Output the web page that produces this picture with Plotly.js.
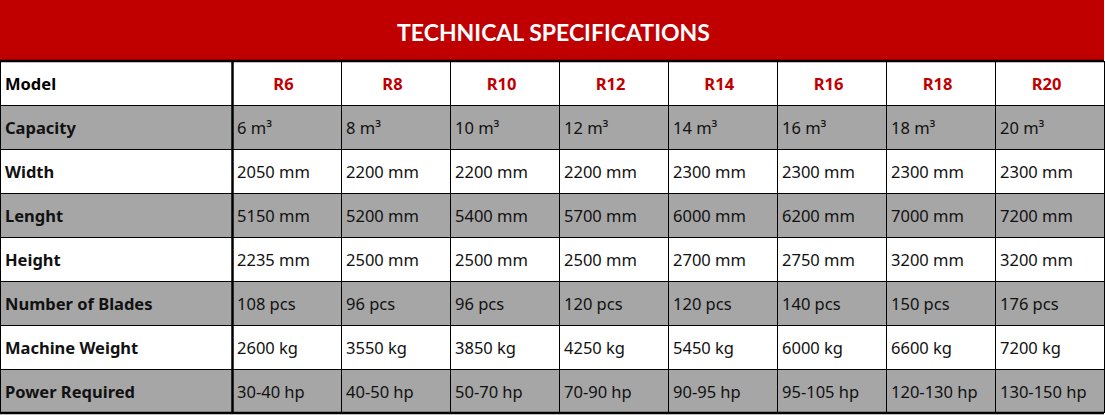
<!DOCTYPE html>
<html><head><meta charset="utf-8">
<script src="https://cdn.plot.ly/plotly-3.0.1.min.js"></script>
<style>
body{margin:0;background:#fff}
#c{width:1105px;height:415px}
</style>
</head><body><div id="c"></div>
<script>
const title = "TECHNICAL SPECIFICATIONS";
const models = ["R6","R8","R10","R12","R14","R16","R18","R20"];
const rowLabels = ["Capacity","Width","Lenght","Height","Number of Blades","Machine Weight","Power Required"];
const capacity = ["6 m³","8 m³","10 m³","12 m³","14 m³","16 m³","18 m³","20 m³"];
const width = ["2050 mm","2200 mm","2200 mm","2200 mm","2300 mm","2300 mm","2300 mm","2300 mm"];
const length = ["5150 mm","5200 mm","5400 mm","5700 mm","6000 mm","6200 mm","7000 mm","7200 mm"];
const height = ["2235 mm","2500 mm","2500 mm","2500 mm","2700 mm","2750 mm","3200 mm","3200 mm"];
const blades = ["108 pcs","96 pcs","96 pcs","120 pcs","120 pcs","140 pcs","150 pcs","176 pcs"];
const weight = ["2600 kg","3550 kg","3850 kg","4250 kg","5450 kg","6000 kg","6600 kg","7200 kg"];
const power = ["30-40 hp","40-50 hp","50-70 hp","70-90 hp","90-95 hp","95-105 hp","120-130 hp","130-150 hp"];

const rows = [capacity, width, length, height, blades, weight, power];
const FONT = "'Noto Sans', 'Open Sans', sans-serif";
const TFONT = "Lato, 'Noto Sans', sans-serif";
const FS = 16.5;
const RED = "#C00000", GREY = "#A6A6A6";
const nb = s => s.replace(/ /g, "\u00a0");

const cols = [rowLabels.map(s => "<b>" + nb(s) + "</b>")];
models.forEach((m, j) => cols.push(rows.map(r => "<span>" + nb(r[j]) + "</span>")));
const rowFill = rowLabels.map((_, i) => i % 2 === 0 ? GREY : "#FFFFFF");

const H = 415, W = 1105;
const trace = {
  type: "table",
  domain: {x: [0, 1104 / W], y: [2 / H, 354 / H]},
  columnwidth: [232].concat(models.map(() => 109)),
  header: {
    values: ["<b>Model</b>"].concat(models.map(m => "<b>" + m + "</b>")),
    align: ["left"].concat(models.map(() => "center")),
    fill: {color: "#FFFFFF"},
    line: {color: "#000000", width: 1},
    font: {family: FONT, size: FS, color: ["#000000"].concat(models.map(() => RED))},
    height: 44
  },
  cells: {
    values: cols,
    align: "left",
    fill: {color: [rowFill]},
    line: {color: "#000000", width: 1},
    font: {family: FONT, size: FS, color: "#111111"},
    height: 44
  }
};

const layout = {
  width: W, height: H,
  margin: {l: 0, r: 0, t: 0, b: 0},
  paper_bgcolor: "#FFFFFF",
  showlegend: false,
  shapes: [
    {type: "rect", xref: "paper", yref: "paper", x0: 0, x1: 1104 / W, y0: 354 / H, y1: 1, fillcolor: RED, line: {width: 0}, layer: "below"},
    {type: "line", xref: "paper", yref: "paper", x0: 0, x1: 1104 / W, y0: 354 / H, y1: 354 / H, line: {color: "#000", width: 2.5}},
    {type: "line", xref: "paper", yref: "paper", x0: 232.5 / W, x1: 232.5 / W, y0: 2 / H, y1: 354 / H, line: {color: "#000", width: 2.5}},
    {type: "line", xref: "paper", yref: "paper", x0: 0, x1: 1104 / W, y0: 2 / H, y1: 2 / H, line: {color: "#000", width: 2.5}}
  ],
  annotations: [
    {text: "<b>" + title + "</b>", xref: "paper", yref: "paper", x: 553 / W, y: 1 - 32 / H, showarrow: false,
     font: {family: TFONT, size: 23, color: "#FFFFFF"}, xanchor: "center", yanchor: "middle"}
  ]
};

// Plotly tables anchor text near the top of each cell; nudge it to the reference's centred position.
const SHIFT_Y = 2.5, SHIFT_X = -3;
function centreText() {
  document.querySelectorAll("#c text.cell-text").forEach(t => {
    if (t.dataset.ody === undefined) {
      const d = t.getAttribute("dy") || "0";
      t.dataset.ody = d.trim().endsWith("em") ? parseFloat(d) * FS : (parseFloat(d) || 0);
    }
    const want = String(parseFloat(t.dataset.ody) + SHIFT_Y);
    if (t.getAttribute("dy") !== want) t.setAttribute("dy", want);
    const wx = t.getAttribute("text-anchor") === "middle" ? "0" : String(SHIFT_X);
    if (t.getAttribute("dx") !== wx) t.setAttribute("dx", wx);
  });
}

Plotly.newPlot("c", [trace], layout, {displayModeBar: false, staticPlot: true}).then(() => {
  centreText();
  let n = 0;
  const iv = setInterval(() => { centreText(); if (++n > 60) clearInterval(iv); }, 50);
});
</script></body></html>
